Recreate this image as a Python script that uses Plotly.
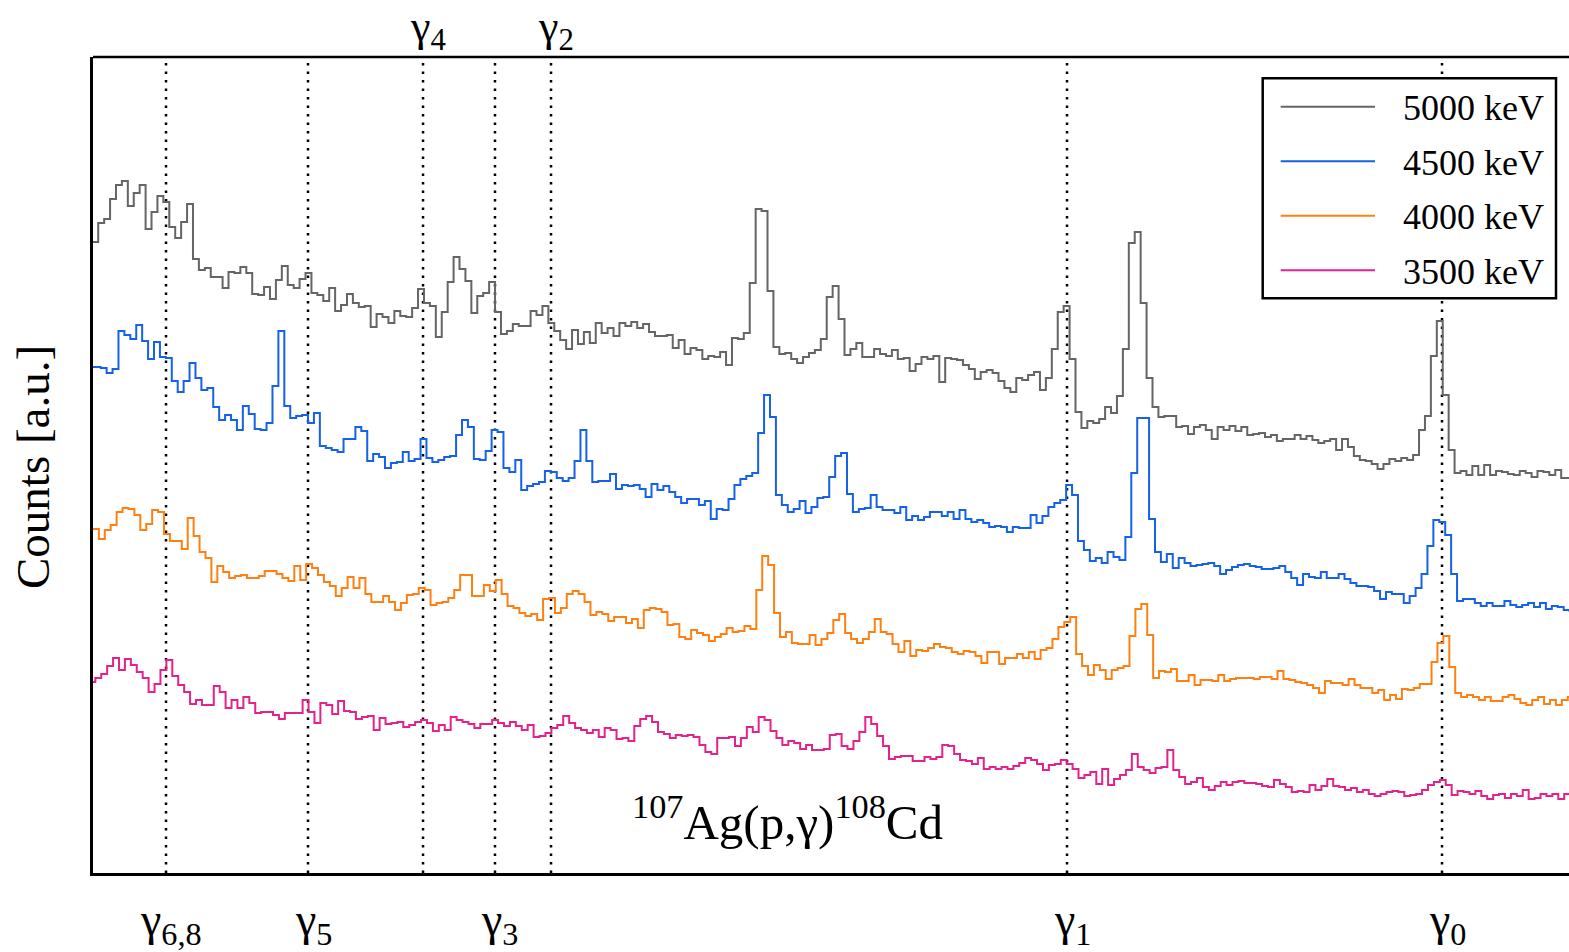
import plotly.graph_objects as go

# Summed gamma spectra of 107Ag(p,gamma)108Cd at four proton energies.
# Counts are in arbitrary units and already include the vertical offsets
# that separate the spectra; bins are 10 keV wide.
BIN_KEV = 10.0

beam_labels = ["5000 keV", "4500 keV", "4000 keV", "3500 keV"]

start_5000 = -10.0
counts_5000 = [
    758, 777, 781, 801, 815, 819, 794, 807, 815, 771,
    788, 804, 798, 773, 762, 778, 796, 741, 730, 732,
    723, 723, 712, 728, 727, 733, 727, 706, 705, 713,
    701, 720, 734, 715, 712, 721, 727, 707, 705, 699,
    712, 689, 695, 706, 697, 693, 694, 673, 686, 683,
    677, 689, 684, 683, 692, 711, 697, 694, 663, 688,
    718, 743, 731, 719, 687, 704, 707, 718, 688, 666,
    669, 676, 674, 674, 689, 685, 694, 677, 669, 660,
    651, 670, 656, 668, 657, 677, 667, 672, 664, 677,
    674, 678, 672, 676, 668, 664, 664, 665, 652, 660,
    646, 652, 650, 641, 644, 643, 648, 635, 662, 661,
    667, 717, 791, 789, 709, 653, 646, 647, 641, 637,
    643, 647, 650, 661, 703, 714, 681, 645, 651, 657,
    643, 643, 651, 646, 644, 650, 641, 642, 629, 636,
    643, 641, 644, 618, 642, 641, 640, 635, 631, 621,
    628, 630, 627, 619, 612, 608, 622, 620, 625, 628,
    610, 622, 651, 688, 694, 641, 588, 572, 579, 577,
    581, 593, 587, 604, 651, 757, 768, 697, 622, 593,
    583, 584, 584, 573, 574, 566, 573, 575, 570, 561,
    573, 570, 574, 569, 573, 565, 566, 567, 563, 565,
    559, 561, 561, 565, 561, 564, 560, 557, 559, 561,
    550, 561, 553, 544, 540, 539, 536, 531, 536, 541,
    539, 542, 540, 545, 570, 584, 644, 679, 605, 550,
    527, 529, 525, 534, 525, 535, 525, 529, 528, 526,
    525, 529, 527, 523, 529, 528, 525, 530, 522, 522,
]

start_4500 = -15.8
counts_4500 = [
    633, 633, 632, 627, 631, 669, 665, 661, 675, 659,
    641, 658, 643, 642, 619, 608, 619, 637, 622, 610,
    612, 593, 580, 585, 580, 570, 594, 586, 571, 570,
    577, 614, 669, 594, 582, 584, 585, 577, 587, 554,
    552, 550, 548, 561, 561, 573, 569, 539, 546, 543,
    532, 537, 538, 548, 539, 541, 561, 542, 538, 540,
    543, 544, 565, 580, 573, 541, 540, 549, 570, 568,
    532, 528, 540, 510, 514, 516, 518, 529, 528, 522,
    519, 522, 539, 570, 539, 518, 519, 519, 526, 511,
    515, 514, 515, 511, 503, 516, 510, 514, 508, 503,
    497, 501, 501, 495, 499, 481, 491, 490, 501, 515,
    521, 524, 527, 567, 605, 583, 505, 495, 488, 491,
    499, 487, 493, 502, 503, 523, 544, 547, 506, 488,
    491, 492, 505, 493, 490, 490, 487, 493, 480, 484,
    480, 483, 488, 488, 484, 488, 481, 490, 481, 478,
    480, 477, 473, 474, 473, 468, 473, 472, 472, 485,
    477, 484, 493, 497, 500, 515, 505, 459, 450, 439,
    442, 437, 448, 443, 440, 463, 527, 582, 582, 481,
    448, 438, 446, 432, 442, 437, 434, 435, 436, 437,
    434, 426, 430, 433, 435, 436, 434, 433, 431, 431,
    432, 434, 428, 422, 415, 426, 423, 422, 428, 422,
    422, 426, 421, 417, 414, 414, 413, 409, 401, 408,
    406, 406, 397, 404, 412, 426, 454, 480, 478, 465,
    426, 399, 401, 401, 397, 394, 397, 394, 394, 399,
    395, 393, 395, 397, 393, 397, 391, 394, 393, 390,
    389,
]

start_4000 = -8.9
counts_4000 = [
    471, 461, 470, 475, 488, 492, 491, 485, 470, 476,
    490, 488, 466, 459, 459, 451, 482, 464, 448, 442,
    418, 434, 428, 422, 424, 425, 422, 422, 424, 429,
    429, 426, 422, 419, 434, 420, 436, 432, 425, 418,
    414, 404, 412, 423, 412, 422, 406, 398, 398, 404,
    398, 390, 397, 405, 406, 412, 410, 395, 397, 398,
    402, 410, 425, 425, 404, 404, 415, 409, 420, 406,
    394, 392, 387, 384, 386, 380, 401, 402, 387, 392,
    406, 409, 406, 398, 385, 388, 386, 379, 383, 383,
    377, 381, 372, 390, 392, 391, 388, 375, 376, 363,
    361, 370, 367, 365, 359, 363, 366, 372, 368, 369,
    374, 371, 410, 444, 435, 387, 363, 368, 357, 356,
    356, 365, 355, 361, 367, 380, 386, 367, 361, 357,
    361, 368, 381, 368, 366, 356, 348, 359, 344, 350,
    349, 352, 356, 353, 352, 348, 346, 349, 348, 344,
    337, 348, 348, 336, 342, 342, 346, 342, 348, 341,
    350, 352, 361, 373, 378, 383, 346, 334, 325, 335,
    330, 321, 330, 332, 334, 364, 391, 396, 365, 322,
    329, 328, 331, 319, 319, 325, 315, 320, 320, 319,
    325, 319, 321, 322, 322, 322, 321, 323, 323, 321,
    329, 321, 320, 318, 317, 315, 312, 307, 319, 317,
    317, 315, 321, 315, 312, 312, 307, 310, 300, 305,
    301, 311, 310, 312, 316, 316, 338, 357, 364, 333,
    307, 303, 305, 303, 300, 303, 299, 299, 303, 305,
    301, 297, 295, 300, 303, 296, 300, 295, 300, 303,
]

start_3500 = -14.9
counts_3500 = [
    318, 322, 326, 334, 342, 330, 341, 335, 328, 322,
    308, 316, 330, 340, 324, 315, 308, 296, 300, 295,
    295, 314, 308, 292, 300, 292, 303, 297, 287, 288,
    288, 285, 281, 287, 287, 287, 300, 288, 277, 297,
    295, 286, 299, 289, 288, 281, 283, 284, 270, 282,
    276, 277, 278, 273, 275, 278, 280, 277, 269, 275,
    270, 283, 280, 278, 276, 272, 276, 276, 280, 277,
    274, 278, 274, 270, 275, 263, 264, 267, 272, 275,
    284, 277, 272, 270, 267, 270, 263, 272, 270, 261,
    262, 259, 274, 281, 284, 278, 268, 266, 262, 265,
    264, 265, 263, 255, 248, 246, 262, 262, 263, 254,
    262, 273, 268, 283, 280, 269, 262, 255, 259, 257,
    251, 255, 250, 250, 251, 265, 266, 254, 251, 259,
    268, 283, 276, 264, 254, 241, 243, 244, 244, 239,
    239, 243, 241, 243, 255, 254, 246, 240, 239, 236,
    242, 231, 233, 231, 233, 231, 234, 237, 242, 240,
    236, 230, 235, 236, 240, 236, 231, 222, 225, 228,
    216, 231, 215, 221, 225, 230, 246, 233, 230, 227,
    232, 233, 250, 230, 223, 216, 218, 222, 213, 210,
    214, 218, 215, 218, 219, 217, 217, 216, 214, 213,
    220, 216, 213, 208, 209, 208, 215, 210, 214, 221,
    214, 213, 210, 212, 208, 210, 206, 204, 206, 208,
    209, 208, 204, 205, 206, 210, 215, 218, 220, 215,
    205, 209, 208, 206, 209, 204, 201, 205, 206, 202,
    206, 204, 210, 201, 202, 206, 204, 206, 201, 206,
    201,
]

# Transitions into the low-lying levels of 108Cd (same energy scale)
gamma_names = ["γ<sub>6,8</sub>", "γ<sub>5</sub>", "γ<sub>4</sub>", "γ<sub>3</sub>",
               "γ<sub>2</sub>", "γ<sub>1</sub>", "γ<sub>0</sub>"]
gamma_energy = [114.5, 354.2, 548.4, 669.9, 764.5, 1635.7, 2268.8]
gamma_on_top = [False, False, True, False, True, False, False]

x_range = [-8.8, 2483.2]
y_range = [127, 943]

series = [
    (beam_labels[0], start_5000, counts_5000, "#636663"),
    (beam_labels[1], start_4500, counts_4500, "#1562e6"),
    (beam_labels[2], start_4000, counts_4000, "#ff8012"),
    (beam_labels[3], start_3500, counts_3500, "#e3238c"),
]

FONT = "Liberation Serif, Times New Roman, serif"
W, H = 1569, 952
ML, MR, MT, MB = 93, 0, 57, 79
PW, PH = W - ML - MR, H - MT - MB


def px_to_paper(px, py):
    return (px - ML) / PW, (H - MB - py) / PH


fig = go.Figure()

for name, start, counts, color in series:
    edges = [start + BIN_KEV * i for i in range(len(counts) + 1)]
    fig.add_trace(go.Scatter(
        x=edges, y=counts + [counts[-1]], mode="lines", name=name,
        line=dict(color=color, width=2, shape="hv"), showlegend=False,
        hoverinfo="skip",
    ))

shapes = []
annotations = []

# dotted markers for the gamma transitions, labels above or below the frame
for label, energy, top in zip(gamma_names, gamma_energy, gamma_on_top):
    shapes.append(dict(type="line", xref="x", yref="paper", x0=energy, x1=energy,
                       y0=0, y1=1, line=dict(color="black", width=2.5, dash="2.5px,6px"),
                       layer="below"))
    annotations.append(dict(
        x=energy, xref="x", y=1 if top else 0, yref="paper", text=label,
        showarrow=False, xanchor="center", yanchor="bottom" if top else "top",
        xshift=5, yshift=-2 if top else -19,
        font=dict(family=FONT, size=44 if top else 46, color="black"),
    ))

# top edge of the frame (left and bottom come from the axis lines)
shapes.append(dict(type="line", xref="paper", yref="paper", x0=0, x1=1.01, y0=1, y1=1,
                   line=dict(color="black", width=2.5)))

# legend box
bx0, by1 = px_to_paper(1262.7, 78.3)
bx1, by0 = px_to_paper(1556, 298.3)
shapes.append(dict(type="rect", xref="paper", yref="paper", x0=bx0, x1=bx1, y0=by0, y1=by1,
                   line=dict(color="black", width=2.5), fillcolor="white", layer="above"))
for i, (name, _, _, color) in enumerate(series):
    row_py = 106.7 + 54.5 * i
    lx0, ly = px_to_paper(1280.7, row_py)
    lx1, _ = px_to_paper(1375, row_py)
    shapes.append(dict(type="line", xref="paper", yref="paper", x0=lx0, x1=lx1, y0=ly, y1=ly,
                       line=dict(color=color, width=2), layer="above"))
    tx, ty = px_to_paper(1546, row_py + 1.5)
    annotations.append(dict(x=tx, y=ty, xref="paper", yref="paper", text=name,
                            showarrow=False, xanchor="right", yanchor="middle",
                            font=dict(family=FONT, size=36, color="black")))

ax, ay = px_to_paper(33, 467)
annotations.append(dict(x=ax, y=ay, xref="paper", yref="paper", text="Counts [a.u.]",
                        textangle=-90, showarrow=False, xanchor="center", yanchor="middle",
                        font=dict(family=FONT, size=47, color="black")))

rx, ry = px_to_paper(787, 818)
annotations.append(dict(x=rx, y=ry, xref="paper", yref="paper",
                        text="<sup>107</sup>Ag(p,γ)<sup>108</sup>Cd",
                        showarrow=False, xanchor="center", yanchor="middle",
                        font=dict(family=FONT, size=49, color="black")))

fig.update_layout(
    width=W, height=H,
    margin=dict(l=ML, r=MR, t=MT, b=MB, pad=0),
    paper_bgcolor="white", plot_bgcolor="white",
    shapes=shapes, annotations=annotations,
    xaxis=dict(range=x_range, showticklabels=False, ticks="", showgrid=False,
               zeroline=False, showline=True, linecolor="black", linewidth=2.5),
    yaxis=dict(range=y_range, showticklabels=False, ticks="", showgrid=False,
               zeroline=False, showline=True, linecolor="black", linewidth=2.5),
    font=dict(family=FONT),
)

fig.write_html("out.html", config={"displayModeBar": False})
